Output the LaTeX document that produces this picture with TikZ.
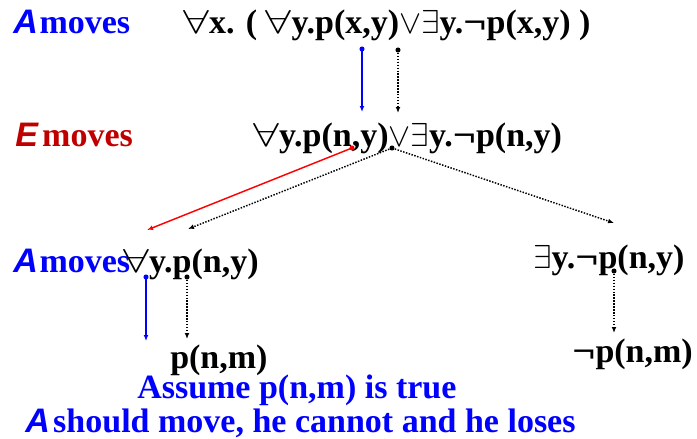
\documentclass[tikz,border=0pt]{standalone}
\usepackage{fontspec}
\setmainfont{Liberation Serif}
\setsansfont{Liberation Sans}
\usetikzlibrary{arrows.meta}
\definecolor{darkred}{RGB}{192,0,0}
\newcommand{\agA}{\textsf{\bfseries\itshape A}}
\newcommand{\agE}{\textsf{\bfseries\itshape E}}
\newcommand{\myfa}{\scalebox{1.4}[1.0]{$\forall$}}
\newcommand{\myex}{$\exists$}
\newcommand{\myor}{$\vee$}
\newcommand{\mynt}{\scalebox{1.2}[1.0]{\textlnot}}
\begin{document}
\begin{tikzpicture}[x=0.75pt,y=-0.75pt,
  txt/.style={anchor=base west,inner sep=0pt,font=\fontsize{25.5}{30}\selectfont\bfseries},
  conn/.style={line width=1.1pt,-{Latex[length=4.5pt,width=3.6pt]}},
  dotline/.style={conn,black,dash pattern=on 1.1pt off 1.1pt}]
\useasboundingbox (0,0) rectangle (697,439);
% texts
\node[txt,blue] (am1) at (13,33) {\agA\hspace{0.05em}moves};
\node[txt] (f1) at (183,33) {\myfa x. ( \myfa y.p(x,y)\myor\myex y.\mynt p(x,y) )};
\node[txt,darkred] (em) at (15,146) {\agE\hspace{0.1em}moves};
\node[txt] (f2) at (253,146) {\myfa y.p(n,y)\myor\myex y.\mynt p(n,y)};
\node[txt,blue] (am3) at (13,272) {\agA\hspace{0.05em}moves};
\node[txt] (f3) at (123,272) {\myfa y.p(n,y)};
\node[txt] (f4) at (533,268) {\myex y.\mynt p(n,y)};
\node[txt] (f5) at (170,368) {p(n,m)};
\node[txt] (f6) at (572,362) {\mynt p(n,m)};
\node[txt,blue] (t1) at (137,398) {Assume p(n,m) is true};
\node[txt,blue] (t2) at (25,432) {\agA\hspace{0.1em}should move, he cannot and he loses};
% connector end points
\coordinate (a1s) at (362,49);  \coordinate (a1e) at (362,112);
\coordinate (b1s) at (398,50);  \coordinate (b1e) at (398,113);
\coordinate (r1s) at (352,148); \coordinate (r1e) at (147,230);
\coordinate (b2s) at (392,148); \coordinate (b2e) at (188,229);
\coordinate (b3e) at (614,223);
\coordinate (a2s) at (146,277); \coordinate (a2e) at (146,341);
\coordinate (b4s) at (187,277); \coordinate (b4e) at (187,339);
\coordinate (b5s) at (614,271); \coordinate (b5e) at (614,333);
% connectors
\draw[conn,blue] (a1s) -- (a1e);
\draw[dotline] (b1s) -- (b1e);
\draw[conn,red] (r1s) -- (r1e);
\draw[dotline] (b2s) -- (b2e);
\draw[dotline] (b2s) -- (b3e);
\draw[conn,blue] (a2s) -- (a2e);
\draw[dotline] (b4s) -- (b4e);
\draw[dotline] (b5s) -- (b5e);
% dots
\fill[blue] (a1s) circle (1.9pt);
\fill (b1s) circle (1.9pt);
\fill[red] (r1s) circle (1.9pt);
\fill (b2s) circle (1.9pt);
\fill[blue] (a2s) circle (1.9pt);
\fill (b4s) circle (1.9pt);
\fill (b5s) circle (1.9pt);
\end{tikzpicture}
\end{document}
